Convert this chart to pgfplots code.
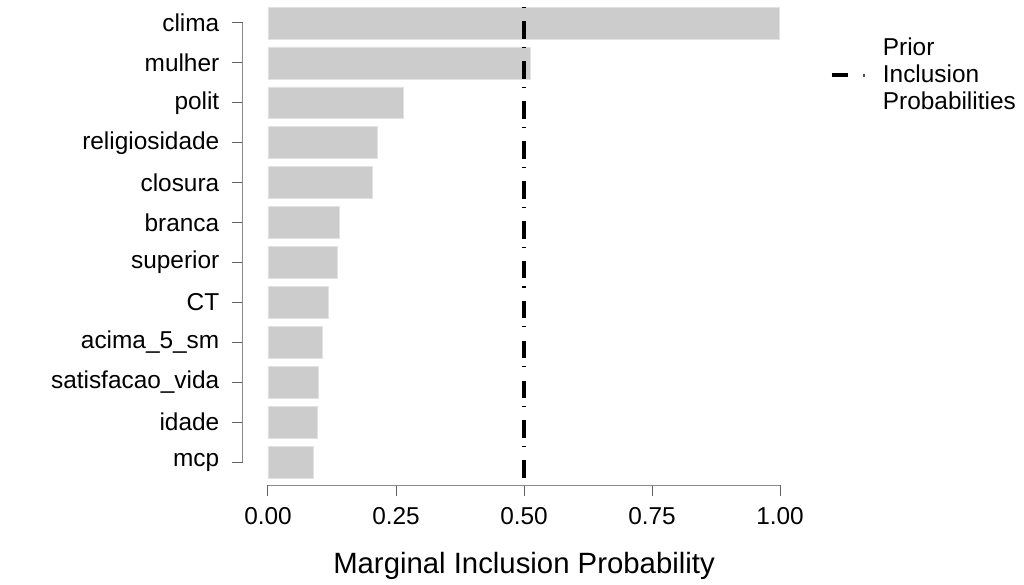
\documentclass[border=0pt]{standalone}
\usepackage{fontspec}
\setmainfont{Liberation Sans}
\usepackage{pgfplots}
\pgfplotsset{compat=1.18}
\definecolor{bargray}{HTML}{CCCCCC}
\definecolor{baredge}{HTML}{E2E2E2}
\definecolor{axgray}{HTML}{8A8A8A}
\begin{document}
\begin{tikzpicture}
\begin{axis}[
  at={(0,0)}, anchor=south west,
  scale only axis,
  width=402.75pt, height=363.75pt,
  xmin=-0.048828, xmax=1.0,
  ymin=-0.576, ymax=11.576,
  axis lines*=left,
  axis line style={draw=none},
  clip=false,
  tick align=outside,
  major tick length=8.6pt,
  tick style={axgray!70!black, line width=0.75pt},
  xtick={0,0.25,0.5,0.75,1},
  xticklabels={0.00,0.25,0.50,0.75,1.00},
  ytick={0,1,2,3,4,5,6,7,8,9,10,11},
  yticklabels={mcp,idade,satisfacao\_vida,acima\_5\_sm,CT,superior,branca,closura,religiosidade,polit,mulher,clima},
  tick label style={font=\fontsize{18.3}{21}\selectfont},
  yticklabel style={inner sep=0pt, xshift=-9pt},
  xticklabel style={inner sep=0pt, yshift=-8pt},
  xlabel={Marginal Inclusion Probability},
  xlabel style={font=\fontsize{22}{26}\selectfont, at={(axis description cs:0.5233,0)}, anchor=base, yshift=-66pt, inner sep=0pt},
  legend style={draw=none, fill=none, at={(axis cs:1.089,9.694)}, anchor=west,
    font=\fontsize{18.3}{20.25}\selectfont, nodes={align=left, inner sep=0pt},
    cells={anchor=west}, column sep=12.2pt},
  legend image code/.code={
    \draw[black, line width=2.8pt] (0pt,0pt) -- (12.5pt,0pt);
    \draw[black!70, line width=2.2pt] (23.8pt,0pt) -- (25.1pt,0pt);
  },
  unbounded coords=jump,
]
% bars (Marginal Inclusion Probability)
\addplot[xbar, bar width=0.8, fill=bargray, draw=baredge, line width=0.5pt, forget plot]
  coordinates {
  (0.0885,0) (0.0957,1) (0.0990,2) (0.1070,3) (0.1180,4) (0.1350,5)
  (0.1390,6) (0.2030,7) (0.2135,8) (0.2640,9) (0.5120,10) (0.9995,11)
  };
% axis lines
\addplot[axgray, line width=0.75pt, forget plot] coordinates {(-0.048828,0) (-0.048828,11)};
\addplot[axgray, line width=0.75pt, forget plot] coordinates {(0,-0.576) (1,-0.576)};
% prior inclusion probabilities (dashed per variable)
\addplot[black, line width=2.7pt, dash pattern=on 13.2pt off 9.9pt on 0.8pt off 30pt]
  coordinates {
  (0.5,-0.4) (0.5,0.4) (0.5,nan)
  (0.5,0.6) (0.5,1.4) (0.5,nan)
  (0.5,1.6) (0.5,2.4) (0.5,nan)
  (0.5,2.6) (0.5,3.4) (0.5,nan)
  (0.5,3.6) (0.5,4.4) (0.5,nan)
  (0.5,4.6) (0.5,5.4) (0.5,nan)
  (0.5,5.6) (0.5,6.4) (0.5,nan)
  (0.5,6.6) (0.5,7.4) (0.5,nan)
  (0.5,7.6) (0.5,8.4) (0.5,nan)
  (0.5,8.6) (0.5,9.4) (0.5,nan)
  (0.5,9.6) (0.5,10.4) (0.5,nan)
  (0.5,10.6) (0.5,11.4)
  };
\addlegendentry{Prior\\Inclusion\\Probabilities}
\end{axis}
\pgfresetboundingbox
\path (-182.25pt,-75pt) rectangle (585.75pt,363.75pt);
\end{tikzpicture}
\end{document}
